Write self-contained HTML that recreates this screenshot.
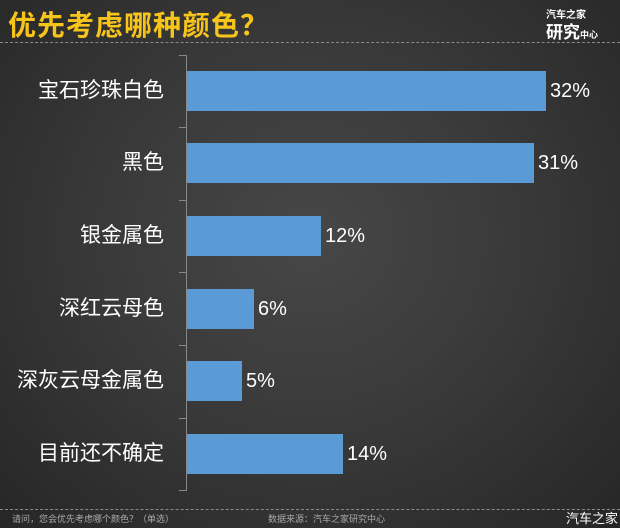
<!DOCTYPE html>
<html><head><meta charset="utf-8"><style>
body{margin:0;width:620px;height:528px;overflow:hidden;font-family:"Liberation Sans","Noto Sans CJK SC",sans-serif;}
#c{position:relative;width:620px;height:528px;background:radial-gradient(ellipse at 50% 45%,#474747 0%,#3a3a3a 45%,#262626 100%);overflow:hidden;}
.t{position:absolute;left:8px;top:4px;font-size:28px;font-weight:bold;color:#f7c41a;letter-spacing:1px;white-space:nowrap;}
.d{position:absolute;left:0;width:620px;border-top:1px dashed #8a8a8a;}
.bar{position:absolute;left:187px;height:40px;background:#5b9bd5;}
.lab{position:absolute;right:456px;font-size:21px;color:#fff;line-height:40px;white-space:nowrap;}
.v{position:absolute;font-size:20px;color:#fff;line-height:40px;}
.ax{position:absolute;left:186px;top:55px;width:1px;height:436px;background:#888;}
.tk{position:absolute;left:179px;width:7px;height:1px;background:#888;}
.s{position:absolute;top:512px;font-size:9px;color:#aaa;white-space:nowrap;}
</style></head><body><div id="c">
<div class="t">优先考虑哪种颜色？</div>
<div style="position:absolute;left:546px;top:6px;font-size:10px;font-weight:bold;color:#fff;white-space:nowrap;">汽车之家</div>
<div style="position:absolute;left:546px;top:18px;font-size:17px;font-weight:bold;color:#fff;white-space:nowrap;">研究<span style="font-size:9px">中心</span></div>
<div class="d" style="top:42px"></div>
<div class="d" style="top:509px"></div>
<div class="ax"></div>
<div class="tk" style="top:55px"></div><div class="tk" style="top:127px"></div><div class="tk" style="top:200px"></div><div class="tk" style="top:272px"></div><div class="tk" style="top:345px"></div><div class="tk" style="top:418px"></div><div class="tk" style="top:490px"></div>
<div class="bar" style="top:71px;width:359px"></div><div class="lab" style="top:71px">宝石珍珠白色</div><div class="v" style="left:550px;top:71px">32%</div>
<div class="bar" style="top:143px;width:347px"></div><div class="lab" style="top:143px">黑色</div><div class="v" style="left:538px;top:143px">31%</div>
<div class="bar" style="top:216px;width:134px"></div><div class="lab" style="top:216px">银金属色</div><div class="v" style="left:325px;top:216px">12%</div>
<div class="bar" style="top:289px;width:67px"></div><div class="lab" style="top:289px">深红云母色</div><div class="v" style="left:258px;top:289px">6%</div>
<div class="bar" style="top:361px;width:55px"></div><div class="lab" style="top:361px">深灰云母金属色</div><div class="v" style="left:246px;top:361px">5%</div>
<div class="bar" style="top:434px;width:156px"></div><div class="lab" style="top:434px">目前还不确定</div><div class="v" style="left:347px;top:434px">14%</div>
<div class="s" style="left:12px">请问，您会优先考虑哪个颜色？（单选）</div>
<div class="s" style="left:268px">数据来源：汽车之家研究中心</div>
<div style="position:absolute;left:566px;top:508px;font-size:13px;color:#fff;white-space:nowrap;">汽车之家</div>
</div></body></html>
